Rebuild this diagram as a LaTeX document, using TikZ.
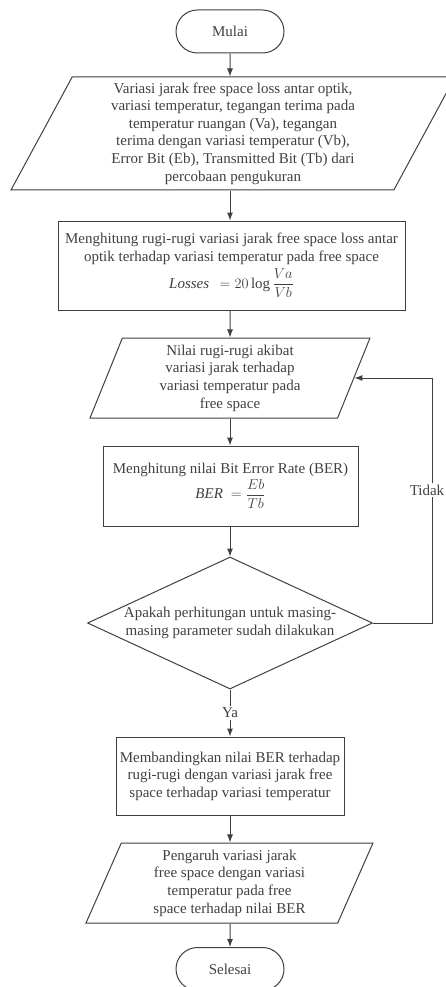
\documentclass[tikz,border=0pt]{standalone}
\usepackage{amsmath}
\usepackage{fontspec}
\setmainfont{Liberation Serif}
\usetikzlibrary{shapes.geometric, shapes.misc, arrows.meta}
\definecolor{lineg}{HTML}{404040}

\begin{document}
\begin{tikzpicture}[x=1pt, y=-1pt, color=lineg, line width=1pt,
    font=\fontsize{15}{17.6}\selectfont, >={Latex[length=8pt, width=6pt]},
    every node/.style={align=center, inner sep=0pt},
    term/.style={draw, rounded rectangle, minimum width=108, minimum height=43},
    proc/.style={draw, rectangle},
    io/.style={draw, trapezium, trapezium stretches body},
    tag/.style={fill=white, inner sep=1.5pt}]
      \useasboundingbox (0, 0) rectangle (446, 987);

      \node [term] (mulai) at (230, 31.5) {Mulai};
      \node [io, trapezium left angle=59, trapezium right angle=121, minimum width=444, minimum height=113] (input) at (233, 133.5)
        {Variasi jarak free space loss antar optik,\\variasi temperatur, tegangan terima pada\\temperatur ruangan (Va), tegangan\\terima dengan variasi temperatur (Vb),\\Error Bit (Eb), Transmitted Bit (Tb) dari\\percobaan pengukuran};
      \node [proc, minimum width=347, minimum height=89] (rugi) at (231.5, 265.5)
        {Menghitung rugi-rugi variasi jarak free space loss antar\\optik terhadap variasi temperatur pada free space\\[3pt]
         $\mathit{Losses}\;\,=20\log\dfrac{Va}{Vb}$};
      \node [io, trapezium left angle=64, trapezium right angle=116, minimum width=280, minimum height=80] (nilai) at (230, 378)
        {Nilai rugi-rugi akibat\\variasi jarak terhadap\\variasi temperatur pada\\free space};
      \node [proc, minimum width=255, minimum height=80] (ber) at (230.5, 486)
        {Menghitung nilai Bit Error Rate (BER)\\[1pt] $\mathit{BER}\;=\dfrac{Eb}{Tb}$};
      \node [draw, diamond, aspect=2.2, minimum width=285, minimum height=132] (cek) at (230, 623)
        {Apakah perhitungan untuk masing-\\masing parameter sudah dilakukan};
      \node [proc, minimum width=228, minimum height=78] (banding) at (230, 776)
        {Membandingkan nilai BER terhadap\\rugi-rugi dengan variasi jarak free\\space terhadap variasi temperatur};
      \node [io, trapezium left angle=62, trapezium right angle=118, minimum width=287, minimum height=80] (hasil) at (229.5, 883)
        {Pengaruh variasi jarak\\free space dengan variasi\\temperatur pada free\\space terhadap nilai BER};
      \node [term] (selesai) at (230, 969) {Selesai};
      \coordinate (belok) at (432, 623);

      \draw [->] (mulai) -- (mulai |- input.north);
      \draw [->] (mulai |- input.south) -- (mulai |- rugi.north);
      \draw [->] (nilai |- rugi.south) -- (nilai.north);
      \draw [->] (nilai.south) -- (nilai.south |- ber.north);
      \draw [->] (ber.south -| cek) -- (cek.north);
      \node [tag] (ya) at (230, 713) {Ya};
      \draw (cek.south) -- (ya);
      \draw [->] (ya) -- (banding);
      \draw [->] (banding.south) -- (banding.south |- hasil.north);
      \draw [->] (hasil.south -| selesai) -- (selesai);
      \draw [->] (cek.east) -- (belok) |- (nilai.east);
      \node [tag] (tidak) at (427, 490) {Tidak};
    \end{tikzpicture}
\end{document}
